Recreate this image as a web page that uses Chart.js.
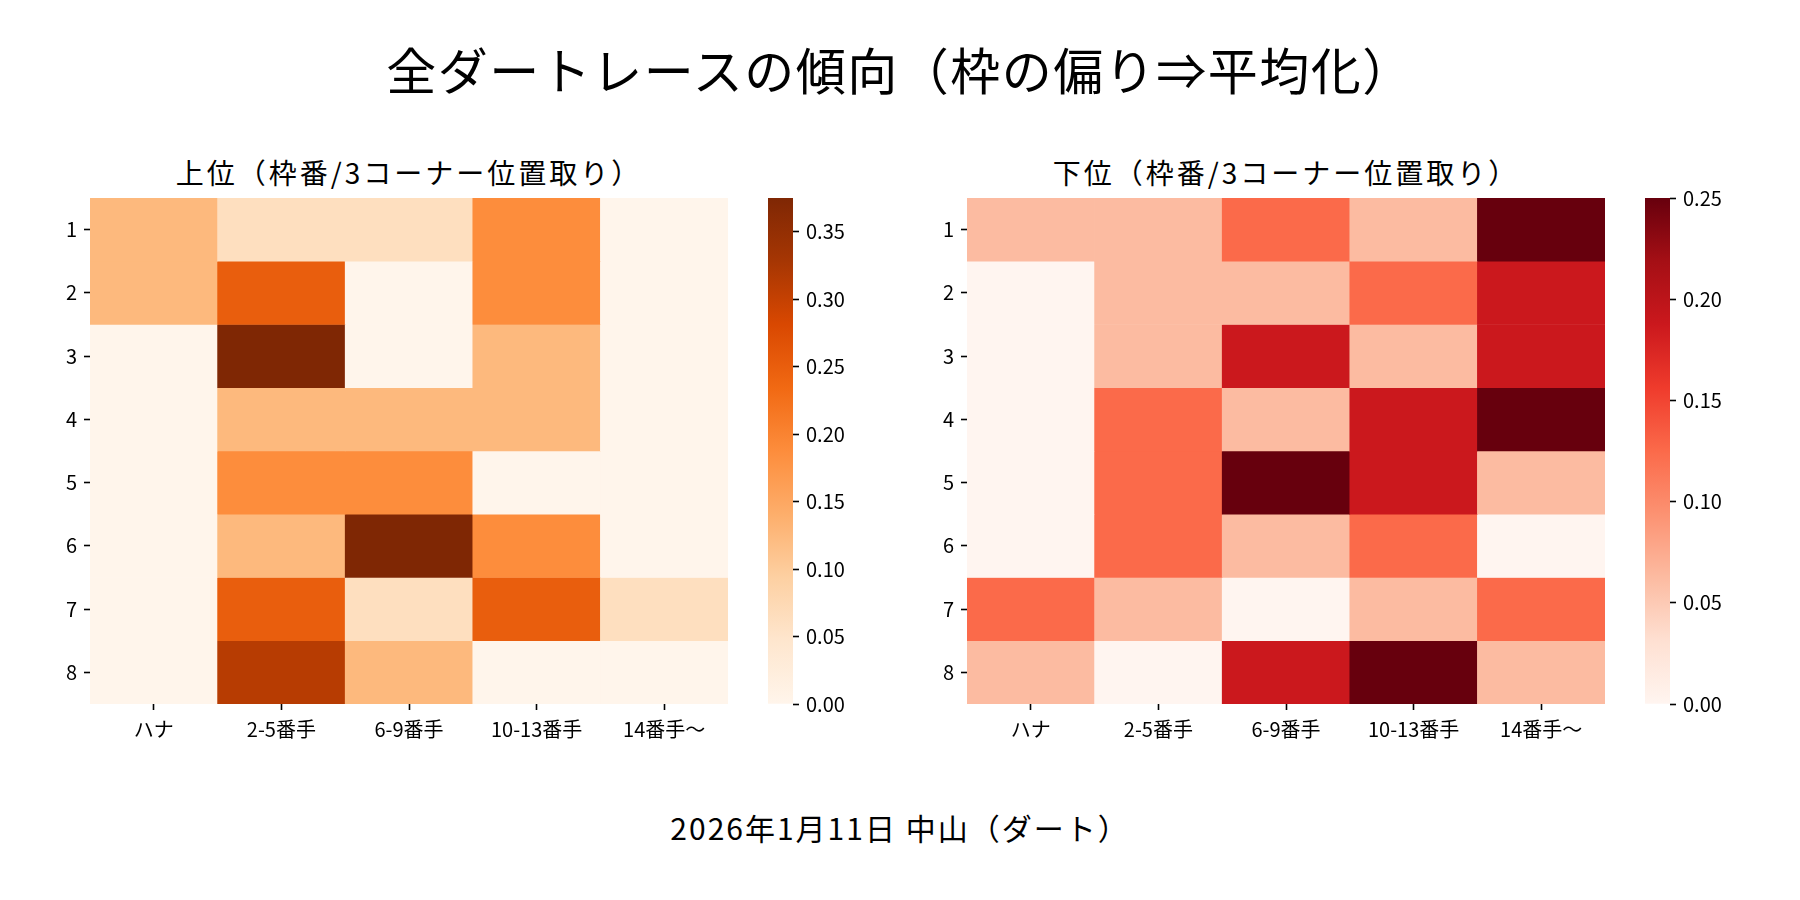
<html><head>
<meta charset="UTF-8">
<title>全ダートレースの傾向</title>
<style>
  body {
    margin: 0;
    width: 1800px;
    height: 900px;
    background-color: #ffffff;
    font-family: "Noto Sans CJK JP", sans-serif;
    color: #000;
    position: relative;
    overflow: hidden;
  }
  .txt {
    position: absolute;
    text-align: center;
    white-space: nowrap;
  }
  #title { left: 0; width: 1800px; top: 39px; font-size: 50px; line-height: 58px; letter-spacing: 1.5px; }
  #subLeft { left: 159px; width: 500px; top: 155px; font-size: 28px; line-height: 34px; letter-spacing: 3px; }
  #subRight { left: 1036px; width: 500px; top: 155px; font-size: 28px; line-height: 34px; letter-spacing: 3px; }
  #caption { left: 0; width: 1800px; top: 810px; font-size: 30px; line-height: 34px; letter-spacing: 2px; }
  .box { position: absolute; }
  #heatTop { left: 30px; top: 198px; width: 698px; height: 566px; }
  #heatBottom { left: 907px; top: 198px; width: 698px; height: 566px; }
  #barTop { left: 768px; top: 184px; width: 85px; height: 534px; }
  #barBottom { left: 1645px; top: 184px; width: 85px; height: 534px; }
</style>
<script src="https://cdn.jsdelivr.net/npm/chart.js"></script>
</head>
<body>
  <div id="title" class="txt">全ダートレースの傾向（枠の偏り⇒平均化）</div>
  <div id="subLeft" class="txt">上位（枠番/3コーナー位置取り）</div>
  <div id="subRight" class="txt">下位（枠番/3コーナー位置取り）</div>
  <div id="caption" class="txt">2026年1月11日 中山（ダート）</div>
  <div id="heatTop" class="box"><canvas id="cTop"></canvas></div>
  <div id="barTop" class="box"><canvas id="cBarTop"></canvas></div>
  <div id="heatBottom" class="box"><canvas id="cBottom"></canvas></div>
  <div id="barBottom" class="box"><canvas id="cBarBottom"></canvas></div>

<script>
// columns = 3コーナー位置取り, rows = 枠番
const positions = ['ハナ', '2-5番手', '6-9番手', '10-13番手', '14番手～'];
const gates = ['1', '2', '3', '4', '5', '6', '7', '8'];

// 上位 share per gate (row) and position (column)
const topShare = [
  [0.125, 0.0625, 0.0625, 0.1875, 0],
  [0.125, 0.25, 0, 0.1875, 0],
  [0, 0.375, 0, 0.125, 0],
  [0, 0.125, 0.125, 0.125, 0],
  [0, 0.1875, 0.1875, 0, 0],
  [0, 0.125, 0.375, 0.1875, 0],
  [0, 0.25, 0.0625, 0.25, 0.0625],
  [0, 0.3125, 0.125, 0, 0]
];

// 下位 share
const bottomShare = [
  [0.0625, 0.0625, 0.125, 0.0625, 0.25],
  [0, 0.0625, 0.0625, 0.125, 0.1875],
  [0, 0.0625, 0.1875, 0.0625, 0.1875],
  [0, 0.125, 0.0625, 0.1875, 0.25],
  [0, 0.125, 0.25, 0.1875, 0.0625],
  [0, 0.125, 0.0625, 0.125, 0],
  [0.125, 0.0625, 0, 0.0625, 0.125],
  [0.0625, 0, 0.1875, 0.25, 0.0625]
];

const topMax = 0.375;
const bottomMax = 0.25;
const topBarTicks = [0, 0.05, 0.10, 0.15, 0.20, 0.25, 0.30, 0.35];
const bottomBarTicks = [0, 0.05, 0.10, 0.15, 0.20, 0.25];

const oranges = ['#fff5eb','#fee6ce','#fdd0a2','#fdae6b','#fd8d3c','#f16913','#d94801','#a63603','#7f2704'];
const reds = ['#fff5f0','#fee0d2','#fcbba1','#fc9272','#fb6a4a','#ef3b2c','#cb181d','#a50f15','#67000d'];

Chart.defaults.font.family = '"Noto Sans CJK JP", sans-serif';
Chart.defaults.font.size = 20;
Chart.defaults.color = '#000';

function hexToRgb(h) {
  return [parseInt(h.slice(1, 3), 16), parseInt(h.slice(3, 5), 16), parseInt(h.slice(5, 7), 16)];
}

function cmap(stops, t) {
  t = Math.max(0, Math.min(1, t));
  const pos = t * (stops.length - 1);
  const i = Math.min(Math.floor(pos), stops.length - 2);
  const f = pos - i;
  const a = hexToRgb(stops[i]);
  const b = hexToRgb(stops[i + 1]);
  const c = a.map((v, k) => Math.round(v + (b[k] - v) * f));
  return `rgb(${c[0]}, ${c[1]}, ${c[2]})`;
}

const tickGrid = {
  display: true,
  drawOnChartArea: false,
  drawTicks: true,
  offset: false,
  tickLength: 6,
  tickWidth: 1.6,
  tickColor: '#000'
};

// vertical axes: fixed width and no label padding at the ends
function fixVertical(s) {
  s.width = 60;
  s.paddingTop = 0;
  s.paddingBottom = 0;
}

function heatmap(canvasId, values, stops, vmax) {
  const ctx = document.getElementById(canvasId).getContext('2d');
  return new Chart(ctx, {
    type: 'bar',
    data: {
      labels: positions,
      datasets: gates.map((g, r) => ({
        label: g,
        data: positions.map(() => 1),
        share: values[r],
        backgroundColor: values[r].map(v => cmap(stops, v / vmax)),
        borderWidth: 0,
        barPercentage: 1,
        categoryPercentage: 1
      }))
    },
    options: {
      responsive: true,
      maintainAspectRatio: false,
      animation: false,
      layout: { padding: 0 },
      plugins: {
        legend: { display: false },
        tooltip: {
          callbacks: {
            label: (item) => `枠${item.dataset.label}: ${item.dataset.share[item.dataIndex].toFixed(3)}`
          }
        }
      },
      scales: {
        x: {
          stacked: true,
          grid: tickGrid,
          border: { display: false },
          ticks: { padding: 7, maxRotation: 0, autoSkip: false },
          afterFit: (s) => { s.height = 60; }
        },
        y: {
          stacked: true,
          reverse: true,
          min: 0,
          max: gates.length,
          grid: tickGrid,
          border: { display: false },
          afterBuildTicks: (s) => { s.ticks = gates.map((g, i) => ({ value: i + 0.5 })); },
          ticks: { padding: 7, callback: (v, i) => gates[i] },
          afterFit: fixVertical
        }
      }
    }
  });
}

function colorbar(canvasId, stops, vmax, tickList) {
  const ctx = document.getElementById(canvasId).getContext('2d');
  return new Chart(ctx, {
    type: 'bar',
    data: {
      labels: [''],
      datasets: [{
        data: [[0, vmax]],
        backgroundColor: (c) => {
          const area = c.chart.chartArea;
          if (!area) return stops[0];
          const g = c.chart.ctx.createLinearGradient(0, area.bottom, 0, area.top);
          stops.forEach((s, i) => g.addColorStop(i / (stops.length - 1), s));
          return g;
        },
        borderWidth: 0,
        barPercentage: 1,
        categoryPercentage: 1
      }]
    },
    options: {
      responsive: true,
      maintainAspectRatio: false,
      animation: false,
      layout: { padding: { top: 14, bottom: 14, left: 0, right: 0 } },
      plugins: { legend: { display: false }, tooltip: { enabled: false } },
      scales: {
        x: { display: false },
        y: {
          position: 'right',
          min: 0,
          max: vmax,
          grid: tickGrid,
          border: { display: false },
          afterBuildTicks: (s) => { s.ticks = tickList.map(v => ({ value: v })); },
          ticks: { padding: 7, callback: (v) => Number(v).toFixed(2) },
          afterFit: fixVertical
        }
      }
    }
  });
}

heatmap('cTop', topShare, oranges, topMax);
colorbar('cBarTop', oranges, topMax, topBarTicks);
heatmap('cBottom', bottomShare, reds, bottomMax);
colorbar('cBarBottom', reds, bottomMax, bottomBarTicks);
</script>
</body></html>
